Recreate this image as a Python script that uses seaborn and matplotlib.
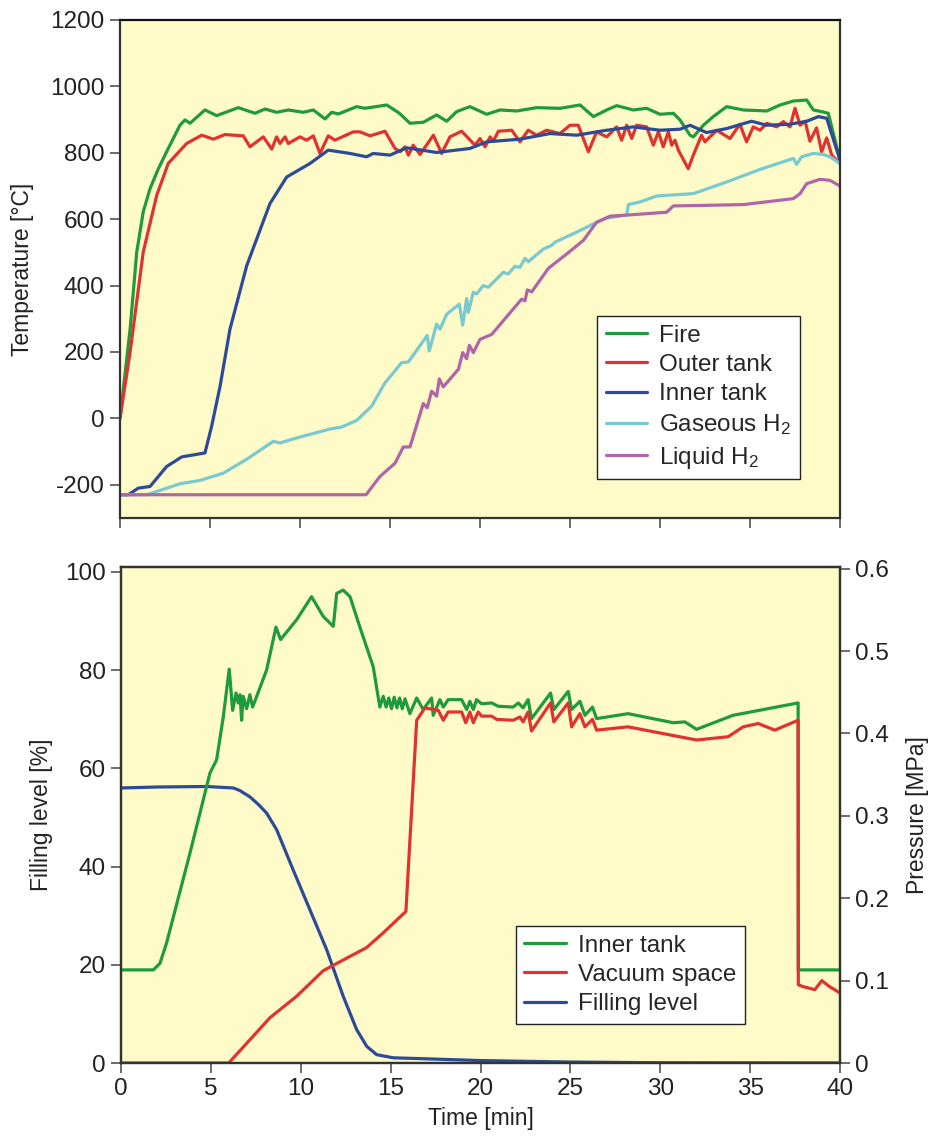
import numpy as np
import pandas as pd
import seaborn as sns
import matplotlib.pyplot as plt
from matplotlib.lines import Line2D

# --- temperature panel (top) ---
fire_t = [0, 0.56, 0.93, 1.29, 1.67, 2.13, 2.68, 3.33, 3.61, 3.89, 4.72, 5.37, 6.57, 7.5, 8.06, 8.7,
          9.35, 10.18, 10.74, 11.39, 11.76, 12.13, 13.15, 13.6, 14.82, 15.5, 16.11, 16.85, 17.59, 18.15,
          18.7, 19.44, 20.37, 21.11, 22.04, 23.15, 24.44, 25.56, 26.3, 27.04, 27.59, 28.52, 29.26, 30,
          30.74, 31.11, 31.67, 31.85, 32.41, 32.96, 33.7, 34.63, 35.93, 36.67, 37.41, 38.15, 38.52,
          38.98, 39.35, 40]
fire_T = [0, 268, 501, 622, 692, 752, 813, 883, 899, 889, 929, 912, 936, 919, 932, 922,
          929, 922, 929, 902, 922, 917, 939, 934, 944, 920, 889, 892, 914, 895,
          924, 939, 916, 929, 926, 936, 934, 944, 909, 929, 942, 929, 934, 916,
          919, 899, 853, 848, 883, 909, 939, 929, 926, 944, 956, 959, 929,
          924, 919, 778]

outer_t = [0, 0.56, 1.29, 2.04, 2.68, 3.7, 4.54, 5.19, 5.83, 6.85, 7.22, 7.96, 8.43, 8.7, 8.89, 9.17,
           9.35, 10, 10.37, 10.74, 11.11, 11.57, 11.94, 12.96, 13.33, 13.89, 14.72, 15.28, 15.56, 15.83,
           16.02, 16.29, 16.67, 17.41, 17.87, 18.33, 18.98, 19.72, 20, 20.28, 20.56, 20.74, 21.02,
           21.76, 22.22, 22.68, 23.15, 23.7, 24.44, 25, 25.46, 26.02, 26.48, 27.04, 27.59, 27.87,
           28.15, 28.43, 28.7, 29.26, 29.63, 29.91, 30.18, 30.46, 30.65, 30.83, 31.02, 31.57, 31.85,
           32.31, 32.5, 33.15, 33.89, 34.44, 34.81, 35.18, 35.56, 35.93, 36.48, 36.85, 37.22, 37.5,
           37.78, 38.06, 38.33, 38.7, 38.98, 39.26, 39.54, 40]
outer_T = [0, 199, 501, 672, 768, 828, 853, 841, 855, 851, 818, 848, 811, 848, 828, 848,
           828, 848, 838, 851, 798, 851, 838, 863, 863, 851, 865, 813, 803, 818,
           793, 823, 795, 853, 798, 848, 865, 823, 843, 818, 848, 835, 865,
           868, 833, 868, 853, 868, 858, 883, 883, 803, 863, 848, 878, 838,
           883, 843, 883, 878, 823, 863, 818, 863, 823, 838, 808, 752, 793,
           853, 833, 868, 843, 886, 833, 878, 868, 889, 878, 894, 878, 934,
           883, 895, 835, 875, 803, 845, 793, 768]

inner_t = [0, 0.46, 1.02, 1.67, 2.59, 3.43, 4.72, 5.09, 5.56, 6.11, 7.04, 8.33, 9.26, 10.56, 11.57,
           12.78, 13.7, 14.07, 15, 15.93, 17.59, 19.44, 20.37, 22.22, 23.89, 25.37, 27.04, 28.52, 30,
           31.11, 31.67, 32.59, 33.7, 35.09, 35.93, 37.22, 38.15, 38.8, 39.26, 40]
inner_T = [-230, -230, -210, -205, -145, -116, -104, -24, 97, 269, 460, 647, 727, 768, 808,
           798, 788, 798, 793, 815, 801, 813, 833, 841, 858, 853, 868, 878, 868,
           871, 883, 861, 873, 895, 883, 886, 895, 909, 904, 778]

gas_t = [0, 1.48, 3.33, 4.44, 5.74, 7.04, 8.52, 8.89, 10, 11.67, 12.31, 13.15, 13.98, 14.72, 15.65,
         16.02, 17.07, 17.18, 17.59, 17.78, 18.15, 18.85, 19.04, 19.26, 19.35, 19.63, 19.81, 20.18,
         20.46, 20.74, 21.29, 21.57, 21.94, 22.22, 22.5, 22.68, 23.52, 23.98, 24.17, 25.37, 26.3,
         27.04, 28.15, 28.24, 28.89, 29.82, 31.85, 33.7, 35.56, 37.41, 37.59, 37.87, 38.52, 39.07,
         39.44, 40]
gas_T = [-230, -230, -197, -187, -165, -123, -69, -74, -56, -32, -26, -6, 37, 107, 168,
         170, 250, 203, 284, 269, 314, 344, 281, 361, 319, 380, 375, 400,
         395, 410, 440, 435, 458, 455, 482, 472, 510, 521, 531, 561, 586,
         603, 613, 644, 652, 670, 677, 712, 750, 783, 765, 788, 798, 795,
         788, 768]

liq_t = [0, 13.67, 14.44, 15.28, 15.74, 16.11, 16.85, 17.07, 17.31, 17.59, 17.74, 17.96, 18.8, 19.04,
         19.26, 19.41, 19.63, 20, 20.65, 22.31, 22.5, 22.63, 22.87, 23.8, 24.81, 25.74, 26.48, 27.22,
         28.33, 30.37, 30.74, 31.85, 34.63, 37.41, 37.78, 38.15, 38.89, 39.44, 40]
liq_T = [-230, -230, -175, -135, -86, -86, 45, 32, 82, 67, 119, 95, 148, 198,
         180, 220, 198, 238, 253, 359, 354, 387, 381, 452, 495, 536, 591, 609,
         613, 621, 640, 641, 644, 662, 677, 707, 720, 717, 700]

# --- pressure / filling panel (bottom) ---
pin_t = [0, 1.8, 2.17, 2.54, 3.84, 4.95, 5.32, 5.69, 6.02, 6.21, 6.4, 6.52, 6.62, 6.71, 6.8, 6.99,
         7.17, 7.32, 7.55, 8.1, 8.62, 8.88, 9.77, 10.6, 11.25, 11.81, 12.0, 12.36, 12.74, 13.29,
         14.03, 14.4, 14.59, 14.75, 14.9, 15.05, 15.2, 15.35, 15.5, 15.65, 15.8, 16.07, 16.45,
         16.81, 17.28, 17.37, 17.74, 17.93, 18.2, 18.95, 19.23, 19.41, 19.6, 19.78, 20.06, 20.62,
         20.98, 21.82, 22.1, 22.37, 22.65, 22.84, 23.9, 24.08, 24.88, 25.07, 25.53, 25.81, 26.23,
         26.46, 28.21, 30.72, 31.37, 32.02, 34.05, 37.67, 37.68, 40]
pin_P = [0.113, 0.113, 0.121, 0.146, 0.255, 0.352, 0.368, 0.42, 0.478, 0.428, 0.449, 0.437, 0.447,
         0.416, 0.445, 0.43, 0.447, 0.432, 0.445, 0.477, 0.529, 0.514, 0.538, 0.566, 0.542, 0.53,
         0.57, 0.574, 0.566, 0.529, 0.481, 0.432, 0.445, 0.432, 0.443, 0.43, 0.444, 0.431, 0.443,
         0.43, 0.442, 0.424, 0.443, 0.429, 0.443, 0.422, 0.441, 0.432, 0.441, 0.441, 0.429, 0.439,
         0.429, 0.441, 0.436, 0.437, 0.433, 0.432, 0.437, 0.431, 0.441, 0.418, 0.449, 0.429, 0.451,
         0.429, 0.439, 0.422, 0.432, 0.418, 0.424, 0.413, 0.414, 0.405, 0.422, 0.437, 0.113, 0.113]

vac_t = [0, 6.0, 6.16, 8.29, 9.77, 11.25, 12.36, 13.66, 14.59, 15.85, 16.45, 16.91, 17.65, 17.93,
         18.2, 18.95, 19.18, 19.41, 19.6, 19.87, 20.06, 20.62, 20.9, 21.82, 22.19, 22.37, 22.65,
         22.84, 23.9, 24.08, 24.88, 25.07, 25.53, 25.81, 26.23, 26.46, 28.21, 32.02, 33.78, 34.61,
         35.45, 36.37, 37.67, 37.68, 37.9, 38.6, 38.99, 39.4, 40]
vac_P = [0, 0, 0.004, 0.055, 0.081, 0.112, 0.125, 0.14, 0.158, 0.184, 0.416, 0.431, 0.428, 0.416,
         0.426, 0.426, 0.413, 0.426, 0.413, 0.426, 0.421, 0.421, 0.417, 0.416, 0.42, 0.414, 0.426,
         0.403, 0.437, 0.414, 0.437, 0.408, 0.424, 0.408, 0.417, 0.404, 0.408, 0.392, 0.396, 0.408,
         0.412, 0.404, 0.416, 0.095, 0.093, 0.089, 0.1, 0.093, 0.085]

fill_t = [0, 2, 4.77, 6.25, 6.6, 7.17, 7.6, 8.1, 8.66, 9.58, 10.51, 11.44, 12.36, 13.11, 13.67, 14.22,
          15.14, 17.0, 20, 25, 30, 40]
fill_L = [56, 56.2, 56.3, 56, 55.5, 54.2, 52.8, 50.9, 47.5, 39.3, 31.2, 23.1, 13.6, 6.8, 3.4, 1.7,
          1.06, 0.85, 0.5, 0.2, 0.05, 0]

time_ticks = [0, 5, 10, 15, 20, 25, 30, 35, 40]
temp_ticks = [-200, 0, 200, 400, 600, 800, 1000, 1200]
fill_ticks = [0, 20, 40, 60, 80, 100]
pres_ticks = [0, 0.1, 0.2, 0.3, 0.4, 0.5, 0.6]
pres_labels = ["0", "0.1", "0.2", "0.3", "0.4", "0.5", "0.6"]

GREEN = "#1f9a3d"
RED = "#e03330"
BLUE = "#2d4a99"
CYAN = "#78c9d0"
MAGENTA = "#b066a6"
BG = "#fffbc8"

sns.set_style("ticks")
plt.rcParams["font.family"] = ["Liberation Sans", "DejaVu Sans"]
plt.rcParams["mathtext.fontset"] = "custom"
plt.rcParams["mathtext.rm"] = "Liberation Sans"
plt.rcParams["mathtext.it"] = "Liberation Sans"
plt.rcParams["axes.unicode_minus"] = False

FS = 16.5    # axis labels
TFS = 17.5   # tick labels and legend
TXT = "#222222"

fig = plt.figure(figsize=(9.31, 11.36), dpi=100)
ax1 = fig.add_axes([120 / 931, 1 - 518 / 1136, 720 / 931, 498 / 1136])
ax2 = fig.add_axes([121 / 931, 1 - 1063 / 1136, 719 / 931, 496 / 1136])
ax2r = ax2.twinx()

lw = 2.3

# top panel
series_top = [
    (fire_t, fire_T, GREEN, "Fire"),
    (outer_t, outer_T, RED, "Outer tank"),
    (inner_t, inner_T, BLUE, "Inner tank"),
    (gas_t, gas_T, CYAN, r"Gaseous H$_\mathregular{2}$"),
    (liq_t, liq_T, MAGENTA, r"Liquid H$_\mathregular{2}$"),
]
for t, v, c, lab in series_top:
    sns.lineplot(x=t, y=v, ax=ax1, color=c, lw=lw, sort=False, estimator=None, label=lab)

ax1.set_facecolor(BG)
ax1.set_xlim(0, 40)
ax1.set_ylim(-300, 1200)
ax1.set_xticks(time_ticks)
ax1.set_xticklabels([])
ax1.set_yticks(temp_ticks)
ax1.set_ylabel("Temperature [°C]", fontsize=FS, color=TXT)
ax1.yaxis.set_label_coords(-0.12, 0.5)
ax1.legend(loc="lower left", bbox_to_anchor=(0.6625, 0.078), fontsize=TFS, frameon=True,
           fancybox=False, edgecolor="#222222", facecolor="white", framealpha=1,
           handlelength=1.7, handletextpad=0.5, labelspacing=0.3, borderpad=0.35,
           borderaxespad=0)

# bottom panel
sns.lineplot(x=fill_t, y=fill_L, ax=ax2, color=BLUE, lw=lw, sort=False, estimator=None)
sns.lineplot(x=pin_t, y=pin_P, ax=ax2r, color=GREEN, lw=lw, sort=False, estimator=None)
sns.lineplot(x=vac_t, y=vac_P, ax=ax2r, color=RED, lw=lw, sort=False, estimator=None)

ax2.set_facecolor(BG)
ax2.set_xlim(0, 40)
ax2.set_ylim(0, 101)
ax2r.set_ylim(0, 0.602)
ax2.set_xticks(time_ticks)
ax2.set_yticks(fill_ticks)
ax2r.set_yticks(pres_ticks)
ax2r.set_yticklabels(pres_labels)
ax2.set_xlabel("Time [min]", fontsize=FS, color=TXT)
ax2.xaxis.set_label_coords(0.5, -0.088)
ax2.set_ylabel("Filling level [%]", fontsize=FS, color=TXT)
ax2.yaxis.set_label_coords(-0.094, 0.5)
ax2r.set_ylabel("Pressure [MPa]", fontsize=FS, color=TXT, rotation=90)
ax2r.yaxis.set_label_coords(1.092, 0.5)

handles = [Line2D([], [], color=GREEN, lw=lw), Line2D([], [], color=RED, lw=lw),
           Line2D([], [], color=BLUE, lw=lw)]
ax2r.legend(handles, ["Inner tank", "Vacuum space", "Filling level"],
            loc="lower left", bbox_to_anchor=(0.549, 0.079), fontsize=TFS, frameon=True,
            fancybox=False, edgecolor="#222222", facecolor="white", framealpha=1,
            handlelength=1.7, handletextpad=0.5, labelspacing=0.3, borderpad=0.35,
            borderaxespad=0)

for ax in (ax1, ax2, ax2r):
    for sp in ax.spines.values():
        sp.set_visible(True)
        sp.set_color("#333333")
        sp.set_linewidth(1.6)
    ax.tick_params(axis="both", which="major", direction="out", length=7, width=1.1,
                   colors="#444444", labelsize=TFS, labelcolor=TXT, pad=4)
ax1.spines["top"].set_color("#111111")
ax2.spines["top"].set_color("#111111")

fig.savefig("out.png", dpi=100)
